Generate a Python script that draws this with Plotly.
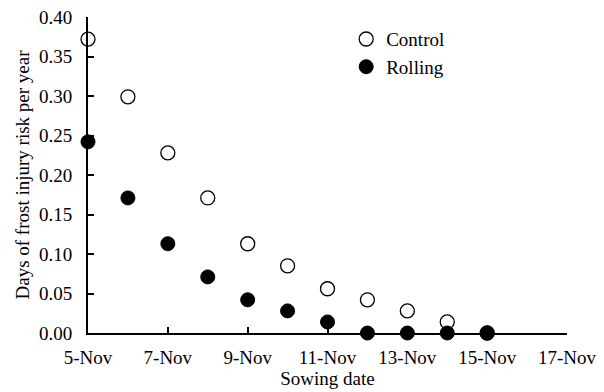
import plotly.graph_objects as go

dates = ["2023-11-05", "2023-11-06", "2023-11-07", "2023-11-08", "2023-11-09", "2023-11-10",
         "2023-11-11", "2023-11-12", "2023-11-13", "2023-11-14", "2023-11-15"]
control = [0.372, 0.299, 0.228, 0.171, 0.113, 0.085, 0.056, 0.042, 0.028, 0.014, 0.0]
rolling = [0.242, 0.171, 0.113, 0.071, 0.042, 0.028, 0.014, 0.0, 0.0, 0.0, 0.0]

FONT = "Liberation Serif"
FS = 19

fig = go.Figure()
fig.add_trace(go.Scatter(x=dates, y=control, mode="markers", name="Control",
                         marker=dict(symbol="circle", size=14, color="white",
                                     line=dict(color="black", width=1.3)),
                         cliponaxis=False))
fig.add_trace(go.Scatter(x=dates, y=rolling, mode="markers", name="Rolling",
                         marker=dict(symbol="circle", size=14, color="black",
                                     line=dict(color="black", width=1)),
                         cliponaxis=False))

fig.update_layout(
    width=604, height=392,
    margin=dict(l=88, r=37, t=17, b=59),
    paper_bgcolor="white", plot_bgcolor="white",
    font=dict(family=FONT, size=FS, color="black"),
    showlegend=True,
    legend=dict(x=0.539, y=0.99, xanchor="left", yanchor="top",
                bgcolor="rgba(0,0,0,0)", font=dict(family=FONT, size=FS),
                itemwidth=30, tracegroupgap=0),
    xaxis=dict(type="date", range=["2023-11-05", "2023-11-17"],
               tick0="2023-11-05", dtick=2 * 86400000, tickformat="%-d-%b",
               showline=True, linecolor="black", linewidth=2,
               ticks="inside", ticklen=6, tickwidth=2, tickcolor="black",
               ticklabelstandoff=6, automargin=False,
               showgrid=False, zeroline=False,
               title=dict(text="Sowing date", font=dict(family=FONT, size=FS), standoff=4)),
    yaxis=dict(range=[0, 0.40], dtick=0.05, tickformat=".2f",
               showline=True, linecolor="black", linewidth=2,
               ticks="inside", ticklen=6, tickwidth=2, tickcolor="black",
               ticklabelstandoff=10, automargin=False,
               showgrid=False, zeroline=False,
               title=dict(text="Days of frost injury risk per year", font=dict(family=FONT, size=FS), standoff=4)),
)

fig.write_html("out.html")
